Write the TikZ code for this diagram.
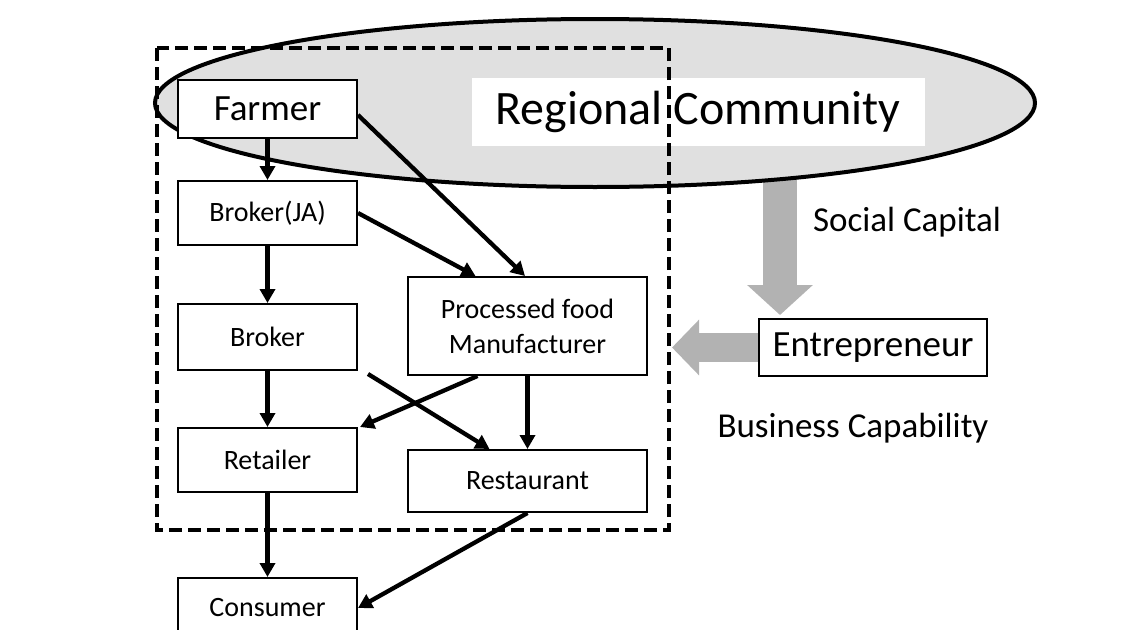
\documentclass[tikz,border=0pt]{standalone}
\usepackage{fontspec}
\setmainfont{Carlito}
\usetikzlibrary{arrows.meta,shapes.geometric}
\definecolor{regionfill}{gray}{0.88}
\definecolor{capgray}{gray}{0.70}
\begin{document}
\begin{tikzpicture}[x=1pt,y=-1pt,
  box/.style={draw, line width=2pt, fill=white, inner sep=0pt, align=center,
              font=\fontsize{28}{35}\selectfont},
  flow/.style={-{Triangle[length=14pt,width=15pt]}, line width=4.3pt},
  bigarrow/.style={draw=capgray, line width=34pt},
  lbl/.style={inner sep=0pt, font=\fontsize{35}{40}\selectfont}]
\useasboundingbox (0,0) rectangle (1140,629);
\fill[white] (0,0) rectangle (1140,629);

% social capital arrow (behind the ellipse)
\coordinate (scstart) at (780,170);
\coordinate (sctip) at (780,315);
\draw[bigarrow, -{Triangle[length=30pt,width=64pt]}] (scstart) -- (sctip);

% regional community ellipse
\node[ellipse, draw, line width=4pt, fill=regionfill, minimum width=880pt,
      minimum height=168pt, inner sep=0pt] (region) at (595,103) {};
\node[fill=white, minimum width=453pt, minimum height=68pt, inner sep=0pt,
      font=\fontsize{48}{52}\selectfont] (regionlbl) at (698,112) {Regional Community};

% dashed boundary
\draw[line width=4.2pt, dash pattern=on 13pt off 6pt] (157,48) rectangle (669,530);

% nodes
\node[box, minimum width=179pt, minimum height=58pt, font=\fontsize{37}{40}\selectfont] (farmer) at (267.5,109) {Farmer};
\node[box, minimum width=179pt, minimum height=64pt] (brokerja) at (267.5,213) {Broker(JA)};
\node[box, minimum width=179pt, minimum height=66pt] (broker) at (267.5,337) {Broker};
\node[box, minimum width=239pt, minimum height=98pt] (proc) at (527.5,326) {Processed food\\Manufacturer};
\node[box, minimum width=179pt, minimum height=64pt] (retailer) at (267.5,460) {Retailer};
\node[box, minimum width=239pt, minimum height=62pt] (rest) at (527.5,481) {Restaurant};
\node[box, minimum width=179pt, minimum height=60pt] (consumer) at (267.5,608) {Consumer};
\node[box, minimum width=228pt, minimum height=57pt, font=\fontsize{37}{40}\selectfont] (ent) at (873,347.5) {Entrepreneur};

% labels
\node[lbl] (social) at (907,222) {Social Capital};
\node[lbl] (business) at (853,428) {Business Capability};

% business capability arrow
\coordinate (bctip) at (672,347.5);
\draw[bigarrow, line width=29pt, -{Triangle[length=27pt,width=54pt]}] (ent.west) -- (bctip);

% flows
\draw[flow] (farmer.south) -- (brokerja.north);
\draw[flow] ([yshift=-6pt]farmer.east) -- ([xshift=-2.5pt]proc.north);
\draw[flow] (brokerja.east) -- ([xshift=-52pt]proc.north);
\draw[flow] (brokerja.south) -- (broker.north);
\draw[flow] (broker.south) -- (retailer.north);
\draw[flow] ([xshift=10pt,yshift=-3pt]broker.south east) -- ([xshift=-38pt]rest.north);
\draw[flow] ([xshift=-50pt]proc.south) -- ([xshift=2pt]retailer.north east);
\draw[flow] (proc.south) -- (rest.north);
\draw[flow] (retailer.south) -- (consumer.north);
\draw[flow] (rest.south) -- (consumer.east);
\end{tikzpicture}
\end{document}
